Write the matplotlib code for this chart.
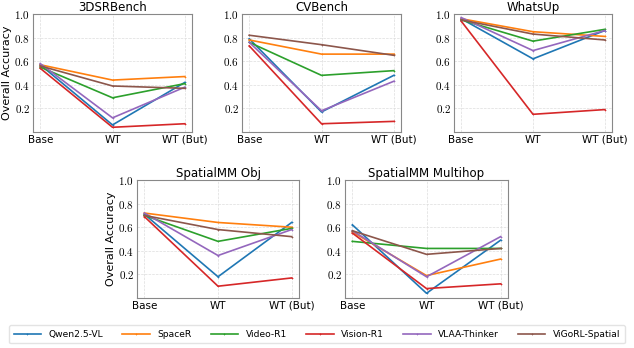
import matplotlib
matplotlib.use("Agg")
import matplotlib.pyplot as plt
from matplotlib.ticker import FuncFormatter

plt.rcParams['mathtext.fontset'] = 'cm'
plt.rcParams['font.family'] = ['DejaVu Sans']

conditions = ["Base", "WT", "WT (But)"]
models = ["Qwen2.5-VL", "SpaceR", "Video-R1", "Vision-R1", "VLAA-Thinker", "ViGoRL-Spatial"]
colors = ["#1f77b4", "#ff7f0e", "#2ca02c", "#d62728", "#9467bd", "#8c564b"]

bench_3dsr = [
    [0.57, 0.06, 0.42],
    [0.57, 0.44, 0.47],
    [0.55, 0.29, 0.41],
    [0.54, 0.04, 0.07],
    [0.58, 0.12, 0.38],
    [0.56, 0.39, 0.37],
]
bench_cv = [
    [0.79, 0.17, 0.48],
    [0.78, 0.66, 0.66],
    [0.76, 0.48, 0.52],
    [0.73, 0.07, 0.09],
    [0.76, 0.18, 0.43],
    [0.82, 0.74, 0.65],
]
bench_whatsup = [
    [0.96, 0.62, 0.86],
    [0.96, 0.85, 0.81],
    [0.95, 0.77, 0.87],
    [0.94, 0.15, 0.19],
    [0.97, 0.69, 0.86],
    [0.95, 0.83, 0.78],
]
bench_smm_obj = [
    [0.71, 0.18, 0.64],
    [0.72, 0.64, 0.60],
    [0.70, 0.48, 0.59],
    [0.69, 0.10, 0.17],
    [0.72, 0.36, 0.58],
    [0.70, 0.58, 0.52],
]
bench_smm_multihop = [
    [0.62, 0.04, 0.49],
    [0.56, 0.19, 0.33],
    [0.48, 0.42, 0.42],
    [0.55, 0.08, 0.12],
    [0.57, 0.18, 0.52],
    [0.57, 0.37, 0.42],
]

panels = [
    ("3DSRBench", bench_3dsr, [33/634, 1 - 132/348, 159/634, 118/348], True),
    ("CVBench", bench_cv, [242/634, 1 - 132/348, 159/634, 118/348], False),
    ("WhatsUp", bench_whatsup, [454/634, 1 - 132/348, 158/634, 118/348], False),
    ("SpatialMM Obj", bench_smm_obj, [137/634, 1 - 298/348, 162/634, 118/348], True),
    ("SpatialMM Multihop", bench_smm_multihop, [345/634, 1 - 298/348, 163/634, 118/348], False),
]

fig = plt.figure(figsize=(6.34, 3.48), dpi=100)
handles = []
for title, data, rect, ylab in panels:
    ax = fig.add_axes(rect)
    x = range(len(conditions))
    for i, vals in enumerate(data):
        h, = ax.plot(x, vals, color=colors[i], lw=1.2, marker='+', ms=2, mew=0.5, label=models[i])
        if title == "3DSRBench":
            handles.append(h)
    ax.set_ylim(0, 1.0)
    ax.set_yticks([0.2, 0.4, 0.6, 0.8, 1.0])
    ax.yaxis.set_major_formatter(FuncFormatter(lambda v, p: r"$%.1f$" % v))
    ax.set_xticks(list(x))
    ax.set_xticklabels(conditions)
    ax.tick_params(axis='x', labelsize=7.5, length=0, pad=2)
    ax.tick_params(axis='y', labelsize=8, length=0, pad=2)
    ax.grid(True, ls='--', lw=0.5, color='#dddddd')
    for s in ax.spines.values():
        s.set_color('#888888')
        s.set_linewidth(0.8)
    ax.set_title(title, fontsize=8.5, pad=2)
    if ylab:
        ax.set_ylabel("Overall Accuracy", fontsize=8, labelpad=2)

fig.legend(handles=handles, labels=models, loc='lower center', ncol=6,
           bbox_to_anchor=(0.5, 0.0), fontsize=6.6, frameon=True,
           handlelength=3.0, columnspacing=2.1, borderpad=0.5,
           edgecolor='#dddddd', fancybox=True)

fig.savefig("out.png", dpi=100)
